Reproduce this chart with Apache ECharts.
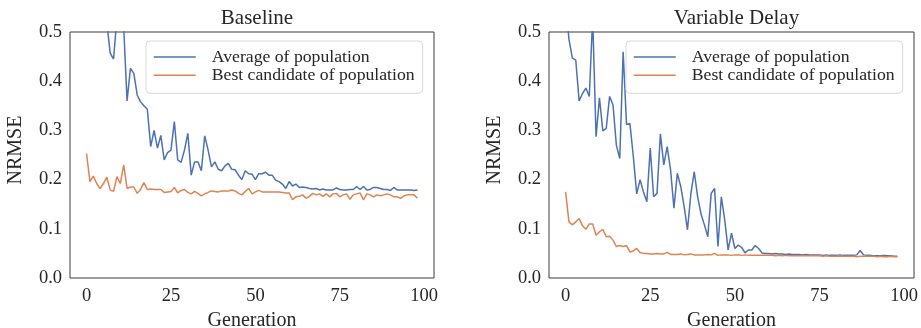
<!DOCTYPE html>
<html>
<head>
<meta charset="utf-8">
<script src="https://cdn.jsdelivr.net/npm/echarts@6/dist/echarts.min.js"></script>
<style>
html,body{margin:0;padding:0;background:#fff;}
#c{width:921px;height:328px;}
</style>
</head>
<body>
<div id="c"></div>
<script>
// ---- data ----
const titles = ['Baseline', 'Variable Delay'];
const seriesNames = ['Average of population', 'Best candidate of population'];
const xTickValues = [0, 25, 50, 75, 100];
const yTickValues = [0.0, 0.1, 0.2, 0.3, 0.4, 0.5];

const baselineAvg = [
0.62,0.60,0.58,0.57,0.56,0.55,0.52,0.457,0.445,0.53,
0.52,0.51,0.36,0.426,0.416,0.372,0.358,0.35,0.343,0.267,
0.30,0.264,0.29,0.24,0.255,0.26,0.318,0.24,0.235,0.26,
0.294,0.209,0.236,0.236,0.218,0.289,0.26,0.226,0.236,0.221,
0.218,0.228,0.233,0.221,0.22,0.209,0.20,0.218,0.212,0.211,
0.20,0.212,0.212,0.215,0.209,0.209,0.199,0.196,0.191,0.182,
0.196,0.187,0.191,0.184,0.185,0.184,0.182,0.181,0.182,0.179,
0.181,0.179,0.179,0.179,0.183,0.18,0.179,0.179,0.18,0.18,
0.186,0.18,0.186,0.179,0.18,0.184,0.184,0.182,0.18,0.18,
0.178,0.184,0.179,0.179,0.179,0.179,0.179,0.178,0.179
];
const baselineBest = [
0.253,0.196,0.207,0.192,0.182,0.192,0.205,0.179,0.176,0.206,
0.192,0.23,0.182,0.185,0.185,0.172,0.18,0.194,0.18,0.181,
0.18,0.18,0.18,0.174,0.175,0.176,0.184,0.173,0.178,0.18,
0.174,0.171,0.176,0.172,0.167,0.171,0.174,0.177,0.176,0.175,
0.177,0.177,0.177,0.179,0.177,0.172,0.169,0.176,0.182,0.171,
0.175,0.178,0.175,0.175,0.175,0.175,0.175,0.175,0.174,0.173,
0.173,0.159,0.165,0.166,0.169,0.162,0.166,0.172,0.169,0.171,
0.166,0.171,0.165,0.171,0.172,0.165,0.169,0.171,0.16,0.169,
0.171,0.173,0.159,0.171,0.169,0.165,0.169,0.167,0.169,0.171,
0.169,0.165,0.165,0.162,0.167,0.169,0.169,0.169,0.162
];
const delayAvg = [
0.56,0.485,0.447,0.443,0.36,0.375,0.386,0.369,0.53,0.287,
0.366,0.299,0.304,0.369,0.352,0.27,0.243,0.46,0.312,0.314,
0.247,0.171,0.20,0.175,0.155,0.264,0.165,0.172,0.293,0.23,
0.267,0.22,0.142,0.213,0.186,0.146,0.098,0.171,0.216,0.165,
0.13,0.108,0.084,0.172,0.182,0.064,0.165,0.118,0.057,0.091,
0.06,0.067,0.062,0.051,0.057,0.057,0.066,0.06,0.051,0.05,
0.05,0.049,0.05,0.049,0.049,0.048,0.049,0.048,0.048,0.048,
0.047,0.048,0.047,0.047,0.047,0.047,0.046,0.047,0.046,0.046,
0.046,0.047,0.046,0.046,0.046,0.046,0.047,0.056,0.047,0.046,
0.046,0.045,0.045,0.045,0.046,0.045,0.045,0.044,0.044
];
const delayBest = [
0.175,0.114,0.108,0.114,0.121,0.106,0.099,0.11,0.11,0.087,
0.094,0.099,0.084,0.085,0.077,0.064,0.066,0.064,0.066,0.053,
0.055,0.06,0.052,0.05,0.05,0.049,0.049,0.05,0.049,0.049,
0.052,0.048,0.048,0.048,0.049,0.047,0.048,0.049,0.047,0.047,
0.047,0.047,0.048,0.047,0.05,0.046,0.047,0.047,0.047,0.046,
0.047,0.047,0.046,0.047,0.046,0.046,0.046,0.046,0.046,0.046,
0.046,0.046,0.045,0.046,0.045,0.046,0.045,0.045,0.045,0.045,
0.045,0.045,0.045,0.045,0.045,0.045,0.044,0.045,0.044,0.044,
0.044,0.044,0.044,0.044,0.044,0.044,0.043,0.044,0.044,0.044,
0.044,0.044,0.043,0.044,0.043,0.043,0.044,0.043,0.043
];

const panels = [
  { avg: baselineAvg, best: baselineBest },
  { avg: delayAvg, best: delayBest }
];

// ---- chart ----
const FONT = 'Liberation Serif';
const TXT = '#262626';
const BLUE = '#4c72b0';
const ORANGE = '#dd8452';
const grids = [
  { left: 70, top: 32, width: 364, height: 246 },
  { left: 549, top: 32, width: 365, height: 246 }
];
const legendPos = [{ left: 146, top: 41 }, { left: 626, top: 41 }];

const pairs = arr => arr.map((v, i) => [i, v]);

const option = {
  animation: false,
  backgroundColor: '#fff',
  title: titles.map((t, k) => ({
    text: t,
    left: grids[k].left + grids[k].width / 2,
    textAlign: 'center',
    top: 3,
    textStyle: { fontFamily: FONT, fontSize: 21, fontWeight: 'normal', color: TXT }
  })),
  legend: legendPos.map(p => ({
    data: seriesNames,
    orient: 'vertical',
    left: p.left,
    top: p.top,
    itemWidth: 42,
    itemHeight: 18,
    itemGap: 0.3,
    padding: [7, 8, 9, 7],
    borderColor: '#d9d9d9',
    borderWidth: 1,
    borderRadius: 4,
    backgroundColor: 'rgba(255,255,255,0.8)',
    selectedMode: false,
    itemStyle: { opacity: 0 },
    lineStyle: { width: 1.5 },
    textStyle: { fontFamily: FONT, fontSize: 17.7, color: TXT, padding: [0, 0, 0, 11] }
  })),
  grid: grids.map(g => Object.assign({
    show: true, borderColor: '#3a3a3a', borderWidth: 1, backgroundColor: 'transparent',
    containLabel: false, outerBoundsMode: 'none'
  }, g)),
  xAxis: grids.map((g, k) => ({
    type: 'value',
    gridIndex: k,
    min: -4.9,
    max: 102.9,
    name: 'Generation',
    nameLocation: 'middle',
    nameGap: 31,
    nameTextStyle: { fontFamily: FONT, fontSize: 20, color: TXT },
    axisLine: { show: false },
    axisTick: { show: false },
    splitLine: { show: false },
    axisLabel: {
      customValues: xTickValues,
      fontFamily: FONT, fontSize: 18.5, color: TXT, margin: 9,
      formatter: v => String(v)
    }
  })),
  yAxis: grids.map((g, k) => ({
    type: 'value',
    gridIndex: k,
    min: 0,
    max: 0.5,
    interval: 0.1,
    name: 'NRMSE',
    nameLocation: 'middle',
    nameGap: 44,
    nameTextStyle: { fontFamily: FONT, fontSize: 20, color: TXT, padding: [0, 0, 0, 10] },
    axisLine: { show: false },
    axisTick: { show: false },
    splitLine: { show: false },
    axisLabel: {
      fontFamily: FONT, fontSize: 18.5, color: TXT, margin: 8,
      formatter: v => v.toFixed(1)
    }
  })),
  series: []
};

panels.forEach((p, k) => {
  option.series.push({
    name: seriesNames[0], type: 'line', xAxisIndex: k, yAxisIndex: k,
    data: pairs(p.avg), symbol: 'none', clip: true,
    lineStyle: { color: BLUE, width: 1.5 }, itemStyle: { color: BLUE }
  });
  option.series.push({
    name: seriesNames[1], type: 'line', xAxisIndex: k, yAxisIndex: k,
    data: pairs(p.best), symbol: 'none', clip: true,
    lineStyle: { color: ORANGE, width: 1.5 }, itemStyle: { color: ORANGE }
  });
});

const chart = echarts.init(document.getElementById('c'), null, { renderer: 'canvas' });
chart.setOption(option);
</script>
</body>
</html>
